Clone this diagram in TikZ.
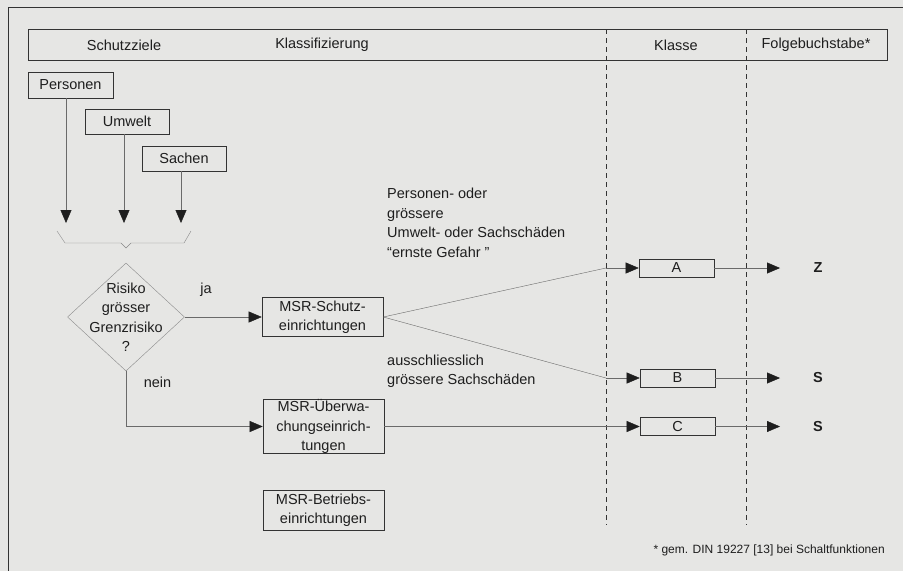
\documentclass[tikz,border=0pt]{standalone}
\usepackage{fontspec}
\setmainfont{Liberation Sans}
\usepackage{xcolor}
\usetikzlibrary{shapes,arrows,positioning,calc,arrows.meta}

\definecolor{paper}{HTML}{E6E6E4}
\definecolor{ink}{HTML}{1E1E1E}
\definecolor{wire}{HTML}{6A6A6A}
\definecolor{frame}{HTML}{333333}

\tikzset{
    mbox/.style={draw=frame, semithick, fill=paper, inner sep=0pt, align=center},
    decision/.style={diamond, draw=wire!80, inner sep=0pt, minimum width=117pt, minimum height=108pt},
    flow/.style={wire, -{Triangle[length=13pt,width=11pt,color=ink]}},
    lbl/.style={inner sep=0pt, align=left, text=ink}
}

\begin{document}
\begin{tikzpicture}[x=1pt, y=-1pt, font=\fontsize{14.5}{19.5}\selectfont, text=ink]
    % Background and frame
    \fill[paper] (0,0) rectangle (903,571);
    \useasboundingbox (0,0) rectangle (903,571);
    \draw[frame, thick] (903,7) -- (8,7) -- (8,571);

    % Header
    \draw[frame, thick] (28,29) rectangle (887,60);
    \node (hziele) at (124,45) {Schutzziele};
    \node (hklass) at (322,45) {Klassifizierung};
    \node (hklasse) at (676,45) {Klasse};
    \node (hfolge) at (816,45) {Folgebuchstabe*};

    % Column separators
    \draw[frame, dash pattern=on 5pt off 4pt] (606,29) -- (606,525);
    \draw[frame, dash pattern=on 5pt off 4pt] (746,29) -- (746,525);

    % Protection goals
    \node[mbox, minimum width=85pt, minimum height=26pt] (pers) at (70.5,85) {Personen};
    \node[mbox, minimum width=84pt, minimum height=25pt] (umw) at (127,121.5) {Umwelt};
    \node[mbox, minimum width=84pt, minimum height=25pt] (sach) at (184,158.5) {Sachen};
    \coordinate (p1) at (66,223);
    \coordinate (p2) at (124,223);
    \coordinate (p3) at (181,223);
    \draw[flow] (pers.south -| p1) -- (p1);
    \draw[flow] (umw.south -| p2) -- (p2);
    \draw[flow] (sach.south -| p3) -- (p3);

    % Brace
    \draw[wire!80] (57,231) -- (65,243) -- (121,243) -- (126,248) -- (131,243) -- (184,243) -- (191,231);

    % Decision
    \node[decision] (risk) at (126,317) {};
    \node[lbl, align=center] at (risk) {Risiko\\grösser\\Grenzrisiko\\?};
    \node[lbl] (ja) at (206,290) {ja};
    \node[lbl] (nein) at (157.5,382) {nein};

    % MSR devices
    \node[mbox, minimum width=121pt, minimum height=39pt] (schutz) at (322.5,317) {MSR-Schutz-\\einrichtungen};
    \node[mbox, minimum width=121pt, minimum height=53pt] (ueber) at (323.5,426.5) {MSR-Überwa-\\chungseinrich-\\tungen};
    \node[mbox, minimum width=121pt, minimum height=40pt] (betr) at (323.5,510) {MSR-Betriebs-\\einrichtungen};
    \draw[flow] (risk.east) -- (schutz.west);
    \draw[flow] (risk.south) |- (ueber.west);

    % Classes
    \node[mbox, minimum width=75pt, minimum height=18pt] (kA) at (676.5,268) {A};
    \node[mbox, minimum width=75pt, minimum height=18pt] (kB) at (677.5,378) {B};
    \node[mbox, minimum width=75pt, minimum height=18pt] (kC) at (677.5,426.5) {C};
    \coordinate (jA) at (606,268);
    \coordinate (jB) at (606,378);
    \draw[wire] (schutz.east) -- (jA);
    \draw[wire] (schutz.east) -- (jB);
    \draw[flow] (jA) -- (kA.west);
    \draw[flow] (jB) -- (kB.west);
    \draw[flow] (ueber.east) -- (kC.west);

    \node[lbl, align=left, anchor=west] (gefahr) at (387,223) {Personen- oder\\grössere\\Umwelt- oder Sachschäden\\\char"201Cernste Gefahr \char"201D};
    \node[lbl, align=left, anchor=west] (sachsch) at (387,371) {ausschliesslich\\grössere Sachschäden};

    % Follow-up letters
    \node[font=\fontsize{14.5}{16}\selectfont\bfseries] (fZ) at (818,268) {Z};
    \node[font=\fontsize{14.5}{16}\selectfont\bfseries] (fS1) at (818,378) {S};
    \node[font=\fontsize{14.5}{16}\selectfont\bfseries] (fS2) at (818,426.5) {S};
    \draw[flow] (kA.east) -- ([xshift=-38pt]fZ.center);
    \draw[flow] (kB.east) -- ([xshift=-38pt]fS1.center);
    \draw[flow] (kC.east) -- ([xshift=-38pt]fS2.center);

    % Footnote
    \node[lbl, anchor=east, font=\fontsize{12}{14}\selectfont] (fnote) at (885,550) {* gem. DIN 19227 [13] bei Schaltfunktionen};
\end{tikzpicture}
\end{document}
